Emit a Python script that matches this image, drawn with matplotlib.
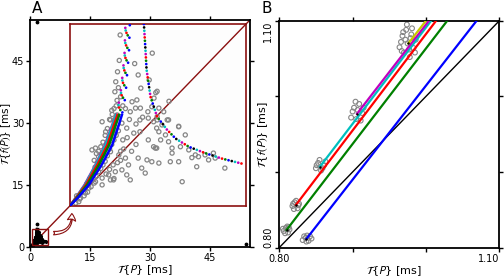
import matplotlib.pyplot as plt
from matplotlib.patches import Rectangle, FancyArrowPatch

plt.rcParams['mathtext.fontset'] = 'stixsans'
plt.rcParams['font.family'] = ['DejaVu Sans']

DARKRED = '#8b1010'
GREY = '#858585'

# Nube gris (ms), zona ampliada
nube_x = [1.54, 1.44, 1.42, 1.95, 2.01, 1.92, 2.27, 1.87, 1.47, 1.81, 1.40, 1.66, 1.89, 1.77, 1.36, 2.26,
          2.35, 2.17, 2.38, 2.31, 2.42, 2.65, 2.87, 2.61, 2.53, 2.20,
          1.13, 1.32, 1.43, 1.58, 1.69, 1.21, 1.28, 0.98, 0.90, 1.05, 1.17, 1.32, 1.51, 1.66, 1.73, 1.58,
          1.43, 1.28, 1.13, 0.98, 0.83, 0.75, 0.64, 0.60, 0.53, 1.39, 1.69, 1.32, 1.13,
          1.99, 2.18, 2.30, 2.37, 1.99, 2.18, 2.30, 2.37, 2.15, 2.26, 2.03, 1.77, 2.11,
          2.38, 2.49, 2.64, 2.42, 2.57, 2.46, 2.64, 2.72, 2.87, 3.02, 2.91, 3.10, 3.25, 3.32, 3.47, 3.66,
          3.70, 3.55, 3.17, 2.72, 2.68, 2.87, 2.42, 3.28, 3.92, 2.95, 2.34, 2.38,
          0.55, 0.62, 0.70, 0.72, 0.78, 0.80, 0.85, 0.88, 0.92, 0.95, 0.97, 1.00, 1.02, 1.05, 1.08, 1.10,
          1.12, 1.15, 1.18, 1.20, 1.22, 1.25, 1.27, 1.30, 1.33, 1.35, 1.38, 1.40, 1.42, 1.45, 1.47, 1.50,
          1.35, 1.30, 1.25, 1.20, 1.15, 1.10, 1.05, 1.00, 0.95, 1.60, 1.62, 1.55, 1.48, 1.38, 1.30, 1.22,
          1.40, 1.55, 1.80, 1.90, 1.85, 1.70, 1.95, 1.75, 1.90, 2.00, 2.05, 1.60, 1.55, 1.50, 1.48, 1.52, 1.45]
nube_y = [4.16, 3.13, 2.91, 3.28, 2.99, 2.73, 3.76, 3.53, 2.72, 2.69, 2.54, 2.54, 2.55, 2.47, 2.41, 2.58,
          2.89, 2.47, 2.92, 2.77, 2.55, 2.70, 2.15, 2.29, 2.47, 3.17,
          2.25, 2.29, 2.14, 2.22, 2.11, 2.03, 1.89, 1.67, 1.63, 1.48, 1.45, 1.59, 1.52, 1.45, 1.30, 1.19,
          1.15, 1.08, 1.01, 0.93, 0.79, 0.68, 0.57, 0.49, 0.46, 0.97, 1.08, 0.97, 0.86,
          2.29, 2.33, 2.25, 2.11, 2.03, 1.85, 1.70, 1.67, 1.41, 1.37, 1.23, 0.97, 1.12,
          2.29, 2.18, 2.29, 2.03, 1.96, 1.85, 1.81, 1.67, 2.14, 1.96, 1.70, 1.63, 1.52, 1.48, 1.52, 1.56,
          1.45, 1.41, 1.46, 1.56, 1.37, 1.37, 1.34, 1.26, 1.23, 0.93, 1.67, 2.36,
          0.62, 0.55, 0.75, 0.62, 0.88, 0.70, 1.00, 0.82, 1.10, 0.90, 1.25, 1.05, 1.35, 1.15, 1.40, 1.22,
          1.55, 1.30, 1.62, 1.38, 1.75, 1.50, 1.85, 1.65, 1.95, 1.75, 2.05, 1.85, 2.30, 1.95, 2.40, 2.05,
          2.50, 2.30, 2.10, 1.95, 1.80, 1.70, 1.60, 1.55, 1.40, 1.85, 1.65, 1.60, 1.35, 1.30, 1.20, 1.10,
          1.00, 1.40, 1.60, 1.75, 2.00, 1.90, 1.45, 2.30, 2.20, 2.55, 2.35, 2.60, 2.80, 3.00, 3.35, 3.60, 2.60]

# Rama izquierda: misma y, x por color
rama_y = [0.4, 0.6, 0.86, 1.3, 1.74, 2.18, 2.4, 2.8, 3.32, 3.76, 4.4]
rama_x_b = [0.4, 0.60, 0.83, 1.12, 1.36, 1.51, 1.58, 1.66, 1.70, 1.74, 1.76]
rama_x_g = [0.4, 0.58, 0.79, 1.06, 1.29, 1.44, 1.52, 1.61, 1.66, 1.70, 1.72]
rama_x_r = [0.4, 0.56, 0.76, 1.02, 1.25, 1.40, 1.48, 1.57, 1.63, 1.67, 1.69]
rama_x_c = [0.4, 0.55, 0.74, 0.99, 1.21, 1.37, 1.45, 1.55, 1.61, 1.65, 1.67]
rama_x_m = [0.4, 0.55, 0.73, 0.98, 1.20, 1.36, 1.45, 1.54, 1.60, 1.64, 1.66]

# Rama derecha
rama2_x = [2.08, 2.10, 2.12, 2.14, 2.23, 2.38, 2.60, 2.80, 3.10, 3.47, 3.85, 4.34]
rama2_y = [4.40, 4.08, 3.76, 3.40, 2.80, 2.36, 2.08, 1.88, 1.70, 1.56, 1.44, 1.32]

# Puntos sueltos en el panel A
sueltos_x = [1.7, 1.8, 54.0]
sueltos_y = [5.6, 54.4, 0.7]

# Panel B: centros de los grupos y rectas
b_colores = ['b', 'g', 'r', 'c', 'm', '#c8c800']
b_x0 = [0.837, 0.810, 0.8228, 0.8555, 0.906, 0.976]
b_y0 = [0.8115, 0.8234, 0.8565, 0.907, 0.977, 1.070]
b_x1 = [1.069, 1.029, 1.0138, 1.007, 1.004, 1.000]
b_y1 = [1.10, 1.10, 1.10, 1.10, 1.10, 1.10]

grupos_x = [0.832, 0.836, 0.840, 0.844, 0.838, 0.834, 0.842, 0.837,
            0.806, 0.809, 0.812, 0.814, 0.808, 0.811, 0.805, 0.813,
            0.818, 0.821, 0.825, 0.827, 0.820, 0.823, 0.826, 0.819,
            0.850, 0.853, 0.857, 0.861, 0.855, 0.863, 0.851, 0.859,
            0.898, 0.902, 0.905, 0.909, 0.913, 0.900, 0.907, 0.911, 0.904, 0.915,
            0.964, 0.968, 0.970, 0.973, 0.975, 0.978, 0.980, 0.983, 0.986, 0.966,
            0.972, 0.977, 0.981, 0.969, 0.985, 0.974, 0.979, 0.967]
grupos_y = [0.810, 0.813, 0.809, 0.812, 0.816, 0.815, 0.815, 0.808,
            0.822, 0.826, 0.820, 0.824, 0.819, 0.828, 0.825, 0.827,
            0.855, 0.860, 0.852, 0.858, 0.851, 0.862, 0.856, 0.858,
            0.905, 0.912, 0.902, 0.909, 0.916, 0.914, 0.909, 0.905,
            0.972, 0.985, 0.970, 0.990, 0.978, 0.980, 0.982, 0.968, 0.993, 0.985,
            1.065, 1.080, 1.058, 1.088, 1.070, 1.052, 1.082, 1.064, 1.075, 1.072,
            1.075, 1.062, 1.090, 1.085, 1.058, 1.095, 1.077, 1.060]

fig = plt.figure(figsize=(5.04, 2.77), dpi=100)
axA = fig.add_axes([0.0595, 0.108, 0.4365, 0.82])
axB = fig.add_axes([0.554, 0.106, 0.4367, 0.819])

for ax in (axA, axB):
    for s in ax.spines.values():
        s.set_linewidth(1.3)
    ax.tick_params(direction='out', top=True, right=True, length=3, width=1, labelsize=7, pad=1.5)
axA.tick_params(axis='y', pad=1)

# ---------- Panel A ----------
axA.plot([0, 55], [0, 55], color=DARKRED, lw=1, zorder=1)
axA.plot(nube_x, nube_y, 'k.', ms=2.5, zorder=2)
for rx in (rama_x_b, rama_x_g, rama_x_r):
    axA.plot(rx, rama_y, 'k-', lw=1.5, zorder=2)
axA.plot(rama2_x, rama2_y, 'k-', lw=1.5, zorder=2)
axA.plot(sueltos_x, sueltos_y, 'k.', ms=3.5, zorder=2)
axA.add_patch(Rectangle((0.4, 0.4), 4, 4, fill=False, ec=DARKRED, lw=1, zorder=3))
flecha = FancyArrowPatch((5.2, 3.4), (10.4, 8.8), connectionstyle='arc3,rad=0.6',
                         arrowstyle='fancy,head_length=0.5,head_width=0.6,tail_width=0.25',
                         mutation_scale=10, fc='white', ec=DARKRED, lw=0.8, zorder=3)
axA.add_patch(flecha)
axA.set_xlim(0, 55)
axA.set_ylim(0, 55)
axA.set_xticks([0, 15, 30, 45])
axA.set_yticks([0, 15, 30, 45])

# Recuadro ampliado
ins = axA.inset_axes([10, 10, 44, 44], transform=axA.transData, zorder=4)
ins.set_facecolor('#fdfdfd')
ins.plot([0.4, 4.4], [0.4, 4.4], color=DARKRED, lw=1, zorder=1)
ins.scatter(nube_x, nube_y, s=9, facecolors='none', edgecolors=GREY, linewidths=0.9, zorder=2)
ramas = [(rama_x_m, 'm'), (rama_x_c, 'c'), (rama_x_r, 'r'), (rama_x_g, 'g'), (rama_x_b, 'b')]
for i, (rx, col) in enumerate(ramas):
    ins.plot(rx[:7], rama_y[:7], color=col, lw=1.8, zorder=3)
    ins.plot(rx[6:], rama_y[6:], color=col, lw=2, ls=(i * 0.9, (0.01, 4.5)),
             dash_capstyle='round', zorder=3)
for i, col in enumerate(['b', 'g', 'r', 'm', 'c', 'k']):
    ins.plot(rama2_x, rama2_y, color=col, lw=2, ls=(i * 1.2, (0.01, 7.2)),
             dash_capstyle='round', zorder=3)
ins.set_xlim(0.4, 4.4)
ins.set_ylim(0.4, 4.4)
ins.set_xticks([])
ins.set_yticks([])
for s in ins.spines.values():
    s.set_color(DARKRED)
    s.set_linewidth(1.2)

# ---------- Panel B ----------
axB.plot([0.8, 1.1], [0.8, 1.1], 'k-', lw=1, zorder=2)
axB.scatter(grupos_x, grupos_y, s=12, facecolors='none', edgecolors=GREY, linewidths=0.8, zorder=1)
for x0, y0, x1, y1, col in zip(b_x0, b_y0, b_x1, b_y1, b_colores):
    axB.plot([x0, x1], [y0, y1], color=col, lw=1.6, zorder=3)
axB.plot(b_x0, b_y0, 'k.', ms=1.5, zorder=4)
axB.set_xlim(0.8, 1.1)
axB.set_ylim(0.8, 1.1)
axB.set_xticks([0.8, 0.9, 1.0, 1.1])
axB.set_xticklabels(['0.80', '', '', '1.10'])
axB.get_xticklabels()[3].set_ha('right')
axB.set_yticks([0.8, 0.9, 1.0, 1.1])
axB.set_yticklabels(['0.80', '', '', '1.10'], rotation=90)
ylabs = axB.get_yticklabels()
ylabs[0].set_va('bottom')
ylabs[3].set_va('top')

# Etiquetas de ejes
for ax, ylab_x, fs in ((axA, -0.077, 7.5), (axB, -0.041, 8)):
    ax.set_xlabel(r'$\mathcal{T}${$P$} [ms]', fontsize=8, va='top')
    ax.xaxis.set_label_coords(0.52, -0.072)
    ax.set_ylabel(r'$\mathcal{T}${$f(P)$} [ms]', fontsize=fs)
    ax.yaxis.set_label_coords(ylab_x, 0.5)

fig.text(0.063, 0.97, 'A', fontsize=11, va='center')
fig.text(0.518, 0.97, 'B', fontsize=11, va='center')

fig.savefig('out.png', dpi=100)
